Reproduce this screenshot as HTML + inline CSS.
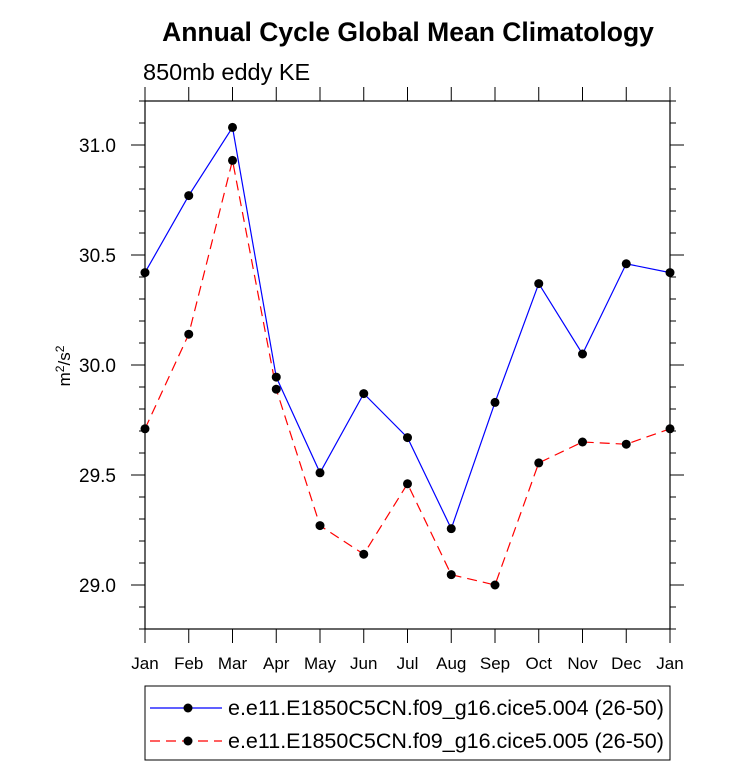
<!DOCTYPE html>
<html><head><meta charset="utf-8"><style>
body{margin:0;background:#fff;}
svg{display:block;font-family:"Liberation Sans",Arial,sans-serif;}
</style></head><body>
<svg id="chart" width="733" height="766">
<text x="408" y="41" font-size="26.5" font-weight="bold" text-anchor="middle">Annual Cycle Global Mean Climatology</text>
<text x="143" y="80" font-size="23.5">850mb eddy KE</text>
<text transform="translate(70,366) rotate(-90)" font-size="17" text-anchor="middle">m<tspan dy="-6" font-size="12">2</tspan><tspan dy="6">/s</tspan><tspan dy="-6" font-size="12">2</tspan></text>
<g id="axes"></g>
<g id="series"></g>
<g id="legend">
<rect x="145" y="686" width="525" height="74" fill="none" stroke="#000" stroke-width="1"/>
<g>
<line x1="150" y1="708" x2="222" y2="708" stroke="#0000ff" stroke-width="1.2"/>
<circle cx="188" cy="708" r="4.5" fill="#000"/>
<text x="228" y="715" font-size="21.5">e.e11.E1850C5CN.f09_g16.cice5.004 (26-50)</text>
</g>
<g>
<line x1="150" y1="741" x2="222" y2="741" stroke="#ff0000" stroke-width="1.2" stroke-dasharray="10,6"/>
<circle cx="188" cy="741" r="4.5" fill="#000"/>
<text x="228" y="748" font-size="21.5">e.e11.E1850C5CN.f09_g16.cice5.005 (26-50)</text>
</g>
</g>
</svg>
<script>
const months=["Jan","Feb","Mar","Apr","May","Jun","Jul","Aug","Sep","Oct","Nov","Dec","Jan"];
const series004=[30.42,30.77,31.08,29.945,29.51,29.87,29.67,29.256,29.83,30.37,30.05,30.46,30.42];
const series005=[29.71,30.14,30.93,29.89,29.27,29.14,29.46,29.047,29.0,29.555,29.65,29.64,29.71];
const yTicks=[29.0,29.5,30.0,30.5,31.0];
const yTickLabels=["29.0","29.5","30.0","30.5","31.0"];
const yMin=28.8,yMax=31.2;
const L=145,R=670,T=101,B=629;
const NS="http://www.w3.org/2000/svg";
function xs(i){return L+(R-L)*i/(months.length-1);}
function ys(v){return B-(v-yMin)/(yMax-yMin)*(B-T);}
function mk(tag,attrs,parent){const e=document.createElementNS(NS,tag);for(const k in attrs)e.setAttribute(k,attrs[k]);parent.appendChild(e);return e;}
const ax=document.getElementById('axes');
const frame=mk('rect',{x:L,y:T,width:R-L,height:B-T,fill:'none',stroke:'#000','stroke-width':1.2},ax);


for(let k=0;k<=24;k++){
  const v=yMin+k*0.1;const y=ys(v);
  const major=Math.abs((v*2)-Math.round(v*2))<1e-6;
  const len=major?14:6;
  const t1=mk('line',{x1:L-len,y1:y,x2:L,y2:y,stroke:'#000','stroke-width':1},ax);
  
  
  const t2=mk('line',{x1:R,y1:y,x2:R+len,y2:y,stroke:'#000','stroke-width':1},ax);
  
  
}
yTicks.forEach((v,i)=>{
  const t=mk('text',{x:L-29,y:ys(v)+7,'font-size':19,'text-anchor':'end'},ax);
  t.textContent=yTickLabels[i];
  
  
});
months.forEach((m,i)=>{
  const x=xs(i);
  const a=mk('line',{x1:x,y1:B,x2:x,y2:B+14,stroke:'#000','stroke-width':1},ax);
  
  
  const b=mk('line',{x1:x,y1:T-14,x2:x,y2:T,stroke:'#000','stroke-width':1},ax);
  
  
  const t=mk('text',{x:x,y:B+40,'font-size':17,'text-anchor':'middle'},ax);
  t.textContent=m;
  
  
});
const sg=document.getElementById('series');
function draw(vals,color,dash,name){
  const pts=vals.map((v,i)=>xs(i)+','+ys(v)).join(' ');
  const pl=mk('polyline',{points:pts,fill:'none',stroke:color,'stroke-width':1.2},sg);
  if(dash)pl.setAttribute('stroke-dasharray',dash);
  
  
  vals.forEach((v,i)=>{
    const c=mk('circle',{cx:xs(i),cy:ys(v),r:4.5,fill:'#000'},sg);
    
    
  });
}
draw(series005,'#ff0000','10,6','series-005');
draw(series004,'#0000ff',null,'series-004');
</script>
</body></html>
